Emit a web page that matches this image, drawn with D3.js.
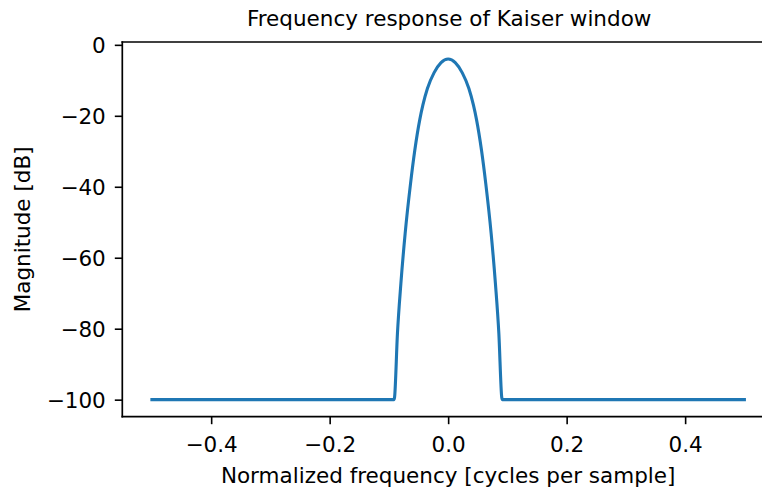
<!DOCTYPE html>
<html>
<head>
<meta charset="utf-8">
<script src="https://cdn.jsdelivr.net/npm/d3@7"></script>
<style>
  html, body { margin: 0; padding: 0; background: #fff; }
  svg { display: block; }
  text { font-family: "DejaVu Sans", sans-serif; fill: #000; }
</style>
</head>
<body>
<svg id="chart" width="762" height="489"></svg>
<script>
// ---- data ----
const freq = [-0.5, -0.0915, -0.0905, -0.0856, -0.0798, -0.0726, -0.0635, -0.0563, -0.0478, -0.0427, -0.035, -0.0239, -0.012, 0,
              0.012, 0.0239, 0.035, 0.0427, 0.0478, 0.0563, 0.0635, 0.0726, 0.0798, 0.0856, 0.0905, 0.0915, 0.5];
const magnitude = [-100, -100, -99.4, -81.4, -67.3, -53.2, -39.1, -29.7, -21.0, -17.0, -12.3, -7.9, -5.0, -4.0,
                   -5.0, -7.9, -12.3, -17.0, -21.0, -29.7, -39.1, -53.2, -67.3, -81.4, -99.4, -100, -100];
const xTicks = [-0.4, -0.2, 0.0, 0.2, 0.4];
const yTicks = [-100, -80, -60, -40, -20, 0];
const titleText = "Frequency response of Kaiser window";
const xLabel = "Normalized frequency [cycles per sample]";
const yLabel = "Magnitude [dB]";

// ---- layout ----
const mLeft = 122.3, mTop = 42, mBottom = 416.7, mRight = 774;
const fontSize = 21.5;
const svg = d3.select("#chart");

const x = d3.scaleLinear().domain([-0.55, 0.55]).range([mLeft, mRight]);
const y = d3.scaleLinear().domain([-104.8, 0.8]).range([mBottom, mTop]);

const data = freq.map((f, i) => ({ f, m: magnitude[i] }));

// line
svg.append("path")
  .datum(data)
  .attr("fill", "none")
  .attr("stroke", "#1f77b4")
  .attr("stroke-width", 3.1)
  .attr("stroke-linejoin", "round")
  .attr("stroke-linecap", "square")
  .attr("d", d3.line().x(d => x(d.f)).y(d => y(d.m)).curve(d3.curveMonotoneX));

// x axis
const xAxis = svg.append("g")
  .attr("transform", `translate(0,${mBottom})`)
  .call(d3.axisBottom(x).tickValues(xTicks).tickFormat(d3.format(".1f")).tickSize(7.5).tickSizeOuter(0));
xAxis.select(".domain").remove();
xAxis.selectAll(".tick line").attr("stroke", "#000").attr("stroke-width", 1.6);
xAxis.selectAll(".tick text")
  .attr("y", 35.6).attr("dy", null)
  .style("font-size", fontSize + "px").style("font-family", "DejaVu Sans");

// y axis
const yAxis = svg.append("g")
  .attr("transform", `translate(${mLeft},0)`)
  .call(d3.axisLeft(y).tickValues(yTicks).tickFormat(d3.format("d")).tickSize(7.5).tickSizeOuter(0));
yAxis.select(".domain").remove();
yAxis.selectAll(".tick line").attr("stroke", "#000").attr("stroke-width", 1.6);
yAxis.selectAll(".tick text")
  .attr("x", -16.5).attr("dy", "0.36em")
  .style("font-size", fontSize + "px").style("font-family", "DejaVu Sans");

// spines
const spine = (x1, y1, x2, y2) => svg.append("line")
  .attr("x1", x1).attr("y1", y1).attr("x2", x2).attr("y2", y2)
  .attr("stroke", "#000").attr("stroke-width", 1.7).attr("stroke-linecap", "square");
spine(mLeft, mTop, mLeft, mBottom);
spine(mLeft, mBottom, mRight, mBottom);
spine(mLeft, mTop, mRight, mTop);
spine(mRight, mTop, mRight, mBottom);

// title & labels
svg.append("text")
  .attr("x", (mLeft + mRight) / 2 + 1).attr("y", 26)
  .attr("text-anchor", "middle")
  .style("font-size", fontSize + "px")
  .text(titleText);
svg.append("text")
  .attr("x", (mLeft + mRight) / 2).attr("y", 482.7)
  .attr("text-anchor", "middle")
  .style("font-size", fontSize + "px")
  .text(xLabel);
svg.append("text")
  .attr("transform", `translate(29.5,${(mTop + mBottom) / 2}) rotate(-90)`)
  .attr("text-anchor", "middle")
  .style("font-size", fontSize + "px")
  .text(yLabel);
</script>
</body>
</html>
